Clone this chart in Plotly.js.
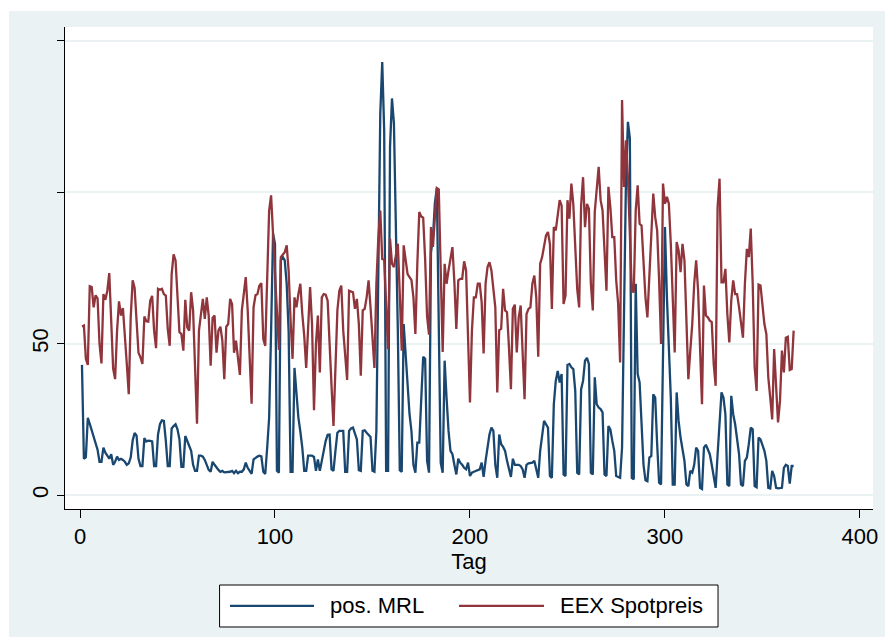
<!DOCTYPE html>
<html>
<head>
<meta charset="utf-8">
<script src="https://cdn.plot.ly/plotly-3.0.1.min.js"></script>
<style>
  html, body { margin: 0; padding: 0; background: #ffffff; }
  #chart { position: absolute; left: 9px; top: 11px; width: 876px; height: 626px; }
</style>
</head>
<body>
<div id="chart"></div>
<script>
// EEX Spotpreis (red), one value per day, weeks Mon..Sun after the first 4 days
const eexSpotpreis = [
  55.7, 56, 45, 43,
  69, 68.7, 62, 66, 65, 50, 43.5,
  66.4, 64.5, 67.5, 73.3, 56.5, 41.8, 38.3,
  54.3, 64, 59.3, 61.8, 50.4, 43.3, 33.3,
  58.7, 70.9, 68.4, 57.6, 47, 45.5, 43.3,
  59, 57.4, 57.3, 64.2, 65.8, 54.3, 48.5,
  68.1, 67.8, 68.1, 66.4, 65.9, 54.9, 49.3,
  73, 79.5, 77.5, 66.4, 53.8, 53.2, 47.7,
  64.5, 55.4, 54.3, 67, 61, 43.3, 23.6,
  54.3, 59.8, 64.8, 58.2, 65.3, 59.3, 42.7,
  58.5, 59.3, 47, 54.3, 55.6, 51, 38.3,
  55.6, 56.5, 64.8, 63, 47, 51, 45,
  39.7, 61, 67.5, 72, 61, 43.3, 30.2,
  62, 66, 66.4, 69.2, 70, 51.5, 49.3,
  76.4, 94, 99, 85, 74, 57.6, 47.9,
  78.6, 79.5, 80.2, 82.5, 74, 57.6, 45,
  65.3, 62, 66.4, 69.8, 59.8, 52.6, 42,
  57.6, 68.7, 56.5, 28, 49.9, 59.3, 40.5,
  65.3, 66.4, 66.2, 64.2, 52, 36, 22.8,
  43.3, 61, 67.5, 69.2, 54.3, 46, 38,
  67.5, 67.3, 67, 61.5, 64.8, 56.5, 39.4,
  61, 61.5, 65.3, 70.9, 62, 51.5, 42,
  69.8, 85, 94, 78, 77.7, 63, 48.2,
  84.7, 76.4, 75.3, 80, 83, 66.4, 47.7,
  82.5, 77.5, 73, 72, 71, 65.3, 53.2,
  76.4, 93.5, 92, 91.6, 78, 59, 53,
  88.5, 82, 94, 101.4, 101, 78, 47.3,
  76.4, 69.8, 74.2, 78.6, 81.9, 70.3, 54.9,
  70.9, 71.4, 71.4, 77.2, 74.2, 54.3, 30.6,
  54.3, 65.3, 65.3, 69.8, 69.8, 63.7, 46.8,
  69.8, 75.3, 76.9, 74.2, 67.5, 62, 33.9,
  54.5, 54.9, 68.1, 61, 60.4, 48.8, 35,
  61.5, 62.9, 47.1, 58.7, 62.6, 48.8, 31.7,
  59.8, 61.5, 62, 69.8, 72.5, 65.3, 45.7,
  76.4, 78.6, 83, 85.8, 86.9, 83, 61.5,
  88.5, 87.4, 92.4, 97.4, 95.6, 63.1, 65.9,
  97.4, 91.3, 102.9, 96, 79, 68, 62,
  95.7, 105, 88.5, 96.2, 94.6, 69.8, 61,
  93.5, 100.7, 108.4, 97.4, 94, 80.8, 67.5,
  101.8, 95.1, 85.2, 85.2, 70.9, 63.1, 43.8,
  130.5, 101.8, 117.2, 105, 85, 67.5, 67,
  94, 102.3, 89.6, 89, 76.4, 65.3, 58.7,
  72, 87.4, 99.6, 91.8, 87.4, 70.9, 49.9,
  102.9, 96.2, 98.5, 96.2, 83, 62, 47.1,
  83.6, 80.8, 73.6, 83, 77.5, 56.5, 38.3,
  47.7, 56.5, 69.8, 77.5, 67.5, 51, 30,
  69.2, 59.3, 58.7, 57.6, 57.1, 43.3, 36.1,
  95.1, 104.5, 70.3, 70.3, 74.7, 59.8, 50.4,
  64.2, 70.9, 66.4, 66.4, 62, 57.6, 52,
  69.8, 81.3, 78.6, 88, 69.8, 42.2, 34.4,
  69.5, 69.2, 62, 56.5, 53.2, 38.9, 32.2,
  25, 48.2, 33.3, 24, 31.1, 47.7, 40.5,
  52, 52.3, 41.3, 41.6, 54.3
];

// pos. MRL (blue), same days
const posMRL = [
  43, 12, 12.5, 25.5,
  23.5, 21.5, 19, 17, 15, 11, 11,
  15.7, 14, 13, 12, 13.5, 10, 11,
  12.7, 11.6, 12, 11.6, 11, 10, 10.5,
  12.4, 18, 20.5, 19.6, 12, 9.6, 9.6,
  18.8, 17.7, 18, 17.9, 17.7, 9.6, 9.6,
  20, 23.4, 24.7, 24.5, 18, 9.6, 9.6,
  22, 22.8, 23.4, 21.7, 18.4, 9.3, 9.3,
  19.5, 17.9, 16, 14.6, 10, 8, 8,
  13, 13, 12.7, 11.6, 10, 8.3, 7.7,
  11, 10, 9, 8.3, 7.7, 8, 7.5,
  7.5, 7.7, 7.7, 8, 7.2, 8, 7.2,
  7.7, 7.7, 8.5, 10.7, 9, 8, 7,
  11.8, 12.4, 12.7, 13, 12.8, 7.7, 7,
  15.7, 25.6, 54, 86.3, 83, 8, 7.4,
  77.5, 78.6, 77.5, 69.8, 54, 7.7, 7.7,
  42, 32, 25.6, 21, 15.7, 8, 8,
  13, 13, 13, 12.6, 8, 11.8, 8,
  11.3, 14.8, 17.9, 19.9, 20, 8.5, 8,
  14.6, 20.6, 21.2, 21.2, 21.2, 7.7, 7.7,
  21.2, 22, 22.3, 20.6, 18.4, 8.2, 8,
  21.2, 21.4, 20.6, 19.9, 19.2, 8, 7.7,
  21.2, 76.4, 126, 143, 120.5, 8, 8,
  115, 131, 122.7, 91.8, 54.3, 8.2, 7.7,
  56.5, 46.6, 36.6, 26.7, 21, 10, 7.4,
  17.3, 17.3, 32, 45.7, 45, 11.3, 7.4,
  80, 85, 96.4, 101.4, 63, 10.6, 7.4,
  44.4, 32, 21.2, 14.6, 13.5, 10, 6.8,
  12, 10.7, 10, 9, 8.5, 10.7, 6.3,
  7.4, 7.7, 8, 8.2, 8.5, 10.7, 6,
  11.3, 16.2, 20, 22.3, 21.2, 10, 5.7,
  20, 16.8, 15.9, 14.6, 11.3, 8.5, 6,
  12, 10, 10, 10, 9.6, 8.5, 5.7,
  10, 10.5, 10.7, 10.7, 11.3, 8.8, 5.7,
  14.6, 20.6, 24.5, 23.4, 22.3, 6.3, 5.7,
  30, 37.7, 41, 37.2, 40, 6.8, 6.3,
  43, 43.3, 42.2, 41.6, 34.4, 7.4, 6.8,
  35, 37.7, 44.4, 45.3, 43.3, 7.4, 6.8,
  38.9, 30, 28.9, 28.4, 27.3, 6.8, 6.3,
  22.8, 21.7, 17.9, 14.6, 6.3, 6, 5.7,
  15.7, 54.3, 104, 123.3, 117.8, 5.7, 5.2,
  69.8, 40, 37.2, 21.2, 10, 4.9, 4.6,
  12.4, 12.9, 33.3, 32.2, 16.8, 4.1, 3.5,
  43.3, 88.5, 65.3, 45, 32.2, 3.5, 3.5,
  33.9, 24.5, 19, 14.6, 11.3, 3.5, 3,
  8, 7.4, 10, 15.7, 14.6, 2.4, 2,
  15.7, 16.6, 15.1, 13.5, 10, 5.7, 2.4,
  13.5, 25.6, 33.9, 32.2, 26.7, 3.5, 3,
  32.8, 26.7, 23.4, 19, 13.5, 3.5, 3,
  11.3, 12.4, 16.8, 22.3, 21.7, 3, 2.6,
  19, 18.4, 16.8, 14.6, 11.3, 2.4, 2.2,
  8, 6.3, 2.4, 2.2, 2.4, 2.4, 9,
  10, 9.6, 3.8, 9.6, 9.6
];

const tag = posMRL.map((_, i) => i + 1);
const xTicks = [0, 100, 200, 300, 400];
const yTicks = [0, 50, 100, 150];
const yTickText = ['0', '50', '', ''];
const seriesNames = ['pos. MRL', 'EEX Spotpreis'];
const seriesColors = ['#1a476f', '#90353b'];

const FONT = 'Liberation Sans, Arial, Helvetica, sans-serif';

const traces = [
  { x: tag, y: posMRL, name: seriesNames[0], type: 'scatter', mode: 'lines',
    line: { color: seriesColors[0], width: 2.3 } },
  { x: tag, y: eexSpotpreis, name: seriesNames[1], type: 'scatter', mode: 'lines',
    line: { color: seriesColors[1], width: 2.3 } }
];

// legend box drawn in paper coordinates (below the plot)
const legY = -0.201;
const shapes = [
  { type: 'rect', xref: 'paper', yref: 'paper', x0: 0.1913, x1: 0.8082, y0: -0.2448, y1: -0.1577,
    line: { color: '#000000', width: 1 }, fillcolor: '#ffffff', layer: 'above' },
  { type: 'line', xref: 'paper', yref: 'paper', x0: 0.2042, x1: 0.3082, y0: legY, y1: legY,
    line: { color: seriesColors[0], width: 2.3 } },
  { type: 'line', xref: 'paper', yref: 'paper', x0: 0.4876, x1: 0.5928, y0: legY, y1: legY,
    line: { color: seriesColors[1], width: 2.3 } }
];
const annotations = [
  { xref: 'paper', yref: 'paper', x: 0.3255, y: legY, xanchor: 'left', yanchor: 'middle',
    text: seriesNames[0], showarrow: false, font: { family: FONT, size: 22, color: '#000' } },
  { xref: 'paper', yref: 'paper', x: 0.6101, y: legY, xanchor: 'left', yanchor: 'middle',
    text: seriesNames[1], showarrow: false, font: { family: FONT, size: 22, color: '#000' } }
];

const layout = {
  width: 876, height: 626,
  margin: { l: 56, r: 12, t: 16, b: 128 },
  paper_bgcolor: '#eaf2f3',
  plot_bgcolor: '#ffffff',
  font: { family: FONT, size: 22, color: '#000000' },
  showlegend: false,
  xaxis: {
    range: [-7.7, 406.7], tickvals: xTicks, ticks: 'outside', ticklen: 8, tickwidth: 1,
    tickcolor: '#000', showline: true, linecolor: '#000', linewidth: 1, showgrid: false,
    zeroline: false, tickfont: { family: FONT, size: 22, color: '#000' },
    title: { text: 'Tag', font: { family: FONT, size: 22, color: '#000' }, standoff: 0 }
  },
  yaxis: {
    range: [-4.6, 154.6], tickvals: yTicks, ticktext: yTickText, tickangle: -90,
    ticks: 'outside', ticklen: 7, tickwidth: 1, tickcolor: '#000',
    showline: true, linecolor: '#000', linewidth: 1,
    showgrid: true, gridcolor: '#eaf2f3', gridwidth: 2, zeroline: false,
    tickfont: { family: FONT, size: 22, color: '#000' }
  },
  shapes: shapes,
  annotations: annotations
};

Plotly.newPlot('chart', traces, layout, { displayModeBar: false, staticPlot: true });
</script>
</body>
</html>
